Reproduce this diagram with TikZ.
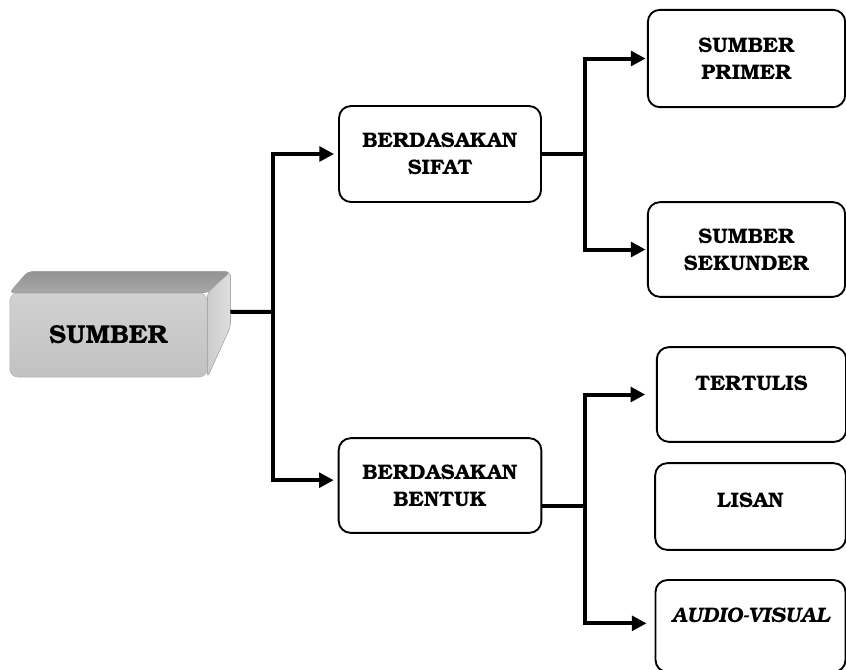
\documentclass[tikz,border=0pt]{standalone}
\usepackage[T1]{fontenc}
\usepackage{bookman}
\usetikzlibrary{arrows.meta,calc}

\newcommand{\boxtxt}{\bfseries\fontsize{15.8}{20}\selectfont}
\newcommand{\roottxt}{\bfseries\fontsize{19.5}{22}\selectfont}

\begin{document}
\begin{tikzpicture}[x=0.75pt,y=-0.75pt,
  box/.style={draw, line width=1.4pt, rounded corners=9pt, align=center, font=\boxtxt},
  highbox/.style={box, text height=11pt, text depth=17pt},
  link/.style={line width=3pt},
  arrow/.style={link, -{Triangle[length=11pt,width=11pt]}}]
  \useasboundingbox (0,0) rectangle (846,669);

  \node[draw=gray!60, rounded corners=6pt, top color=gray!36, bottom color=gray!48,
        minimum width=148pt, minimum height=63pt, font=\roottxt] (sumber) at (108.5,335) {SUMBER};
  \fill[draw=gray!65, top color=gray!85, bottom color=gray!68, rounded corners=3pt]
    (sumber.north west) -- ++(18,-21) -- ($(sumber.north east)+(23,-21)$) -- (sumber.north east) -- cycle;
  \fill[draw=gray!60, left color=gray!40, right color=gray!26, rounded corners=3pt]
    (sumber.north east) -- ++(23,-21) -- ++(0,55) -- (sumber.south east) -- cycle;
  \coordinate (sside) at ($(sumber.north east)+(23,19)$);

  \node[box, minimum width=151.5pt, minimum height=72pt] (sifat) at (440,154) {BERDASAKAN\\SIFAT};
  \node[box, minimum width=152pt, minimum height=71pt] (bentuk) at (440,485.5) {BERDASAKAN\\BENTUK};

  \node[box, minimum width=148pt, minimum height=73pt] (primer) at (746.5,58.5) {SUMBER\\PRIMER};
  \node[box, minimum width=148pt, minimum height=71pt] (sekunder) at (746.5,249.5) {SUMBER\\SEKUNDER};

  \node[highbox, minimum width=142pt, minimum height=71pt] (tertulis) at (751.5,394.5) {TERTULIS};
  \node[box, text height=11pt, text depth=10pt, minimum width=143pt, minimum height=65pt] (lisan) at (750.5,506.5) {LISAN};
  \node[highbox, minimum width=142.5pt, minimum height=69pt] (audio) at (750.5,626) {\itshape AUDIO-VISUAL};

  \coordinate (j1) at (273,312);
  \coordinate (j2) at (585,154);
  \coordinate (j3) at (585,506);

  \draw[link] (sside) -- (j1);
  \draw[arrow, shorten >=3pt] (j1) |- (sifat.west);
  \draw[arrow, shorten >=3pt] (j1) |- ([yshift=4pt]bentuk.west);

  \draw[link] (sifat.east) -- (j2);
  \draw[arrow, shorten >=1pt] (j2) |- (primer.west);
  \draw[arrow, shorten >=1pt] (j2) |- (sekunder.west);

  \draw[link] (bentuk.east |- j3) -- (j3);
  \draw[arrow, shorten >=8pt] (j3) |- (tertulis.west);
  \draw[arrow, shorten >=6pt] (j3) |- ([yshift=2pt]audio.west);
\end{tikzpicture}
\end{document}
